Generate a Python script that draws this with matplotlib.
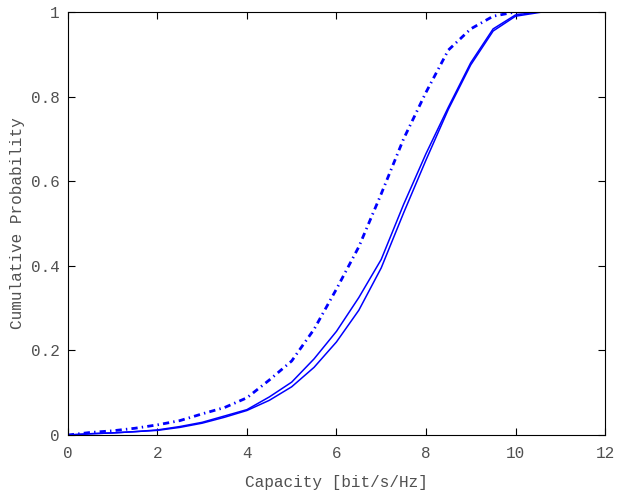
import matplotlib
matplotlib.use("Agg")
import matplotlib.pyplot as plt

# capacity CDF curves
cap_dashdot = [0, 0.5, 1, 1.5, 2, 2.5, 3, 3.5, 4, 4.5, 5, 5.5, 6, 6.5, 7, 7.5, 8, 8.5, 9, 9.5, 10, 10.3]
cdf_dashdot = [0.0, 0.006, 0.01, 0.016, 0.024, 0.034, 0.05, 0.065, 0.088, 0.13, 0.175, 0.25, 0.345, 0.445, 0.57, 0.70, 0.81, 0.91, 0.96, 0.99, 1.0, 1.0]

cap_solid_a = [0, 0.5, 1, 1.5, 2, 2.5, 3, 3.5, 4, 4.5, 5, 5.5, 6, 6.5, 7, 7.5, 8, 8.5, 9, 9.5, 10, 10.5]
cdf_solid_a = [0.0, 0.003, 0.005, 0.008, 0.012, 0.02, 0.03, 0.045, 0.06, 0.09, 0.125, 0.18, 0.245, 0.325, 0.415, 0.545, 0.665, 0.775, 0.88, 0.96, 0.993, 1.0]

cap_solid_b = [0, 0.5, 1, 1.5, 2, 2.5, 3, 3.5, 4, 4.5, 5, 5.5, 6, 6.5, 7, 7.5, 8, 8.5, 9, 9.5, 10, 10.6]
cdf_solid_b = [0.0, 0.003, 0.005, 0.008, 0.011, 0.018, 0.028, 0.042, 0.058, 0.082, 0.114, 0.16, 0.22, 0.295, 0.395, 0.525, 0.65, 0.77, 0.875, 0.955, 0.99, 1.0]

xticks = [0, 2, 4, 6, 8, 10, 12]
yticks = [0, 0.2, 0.4, 0.6, 0.8, 1]
ytick_labels = ["0", "0.2", "0.4", "0.6", "0.8", "1"]

plt.rcParams['font.family'] = ['Liberation Mono', 'DejaVu Sans Mono']
plt.rcParams['lines.scale_dashes'] = False
text_col = '#505050'

fig = plt.figure(figsize=(6.17, 4.93), dpi=100)
ax = fig.add_axes([0.110, 0.1176, 0.8706, 0.8581])

ax.plot(cap_dashdot, cdf_dashdot, color='#0000ff', linewidth=2, dashes=[4.5, 3, 1, 3])
ax.plot(cap_solid_a, cdf_solid_a, color='#0000ff', linestyle='-', linewidth=1.1)
ax.plot(cap_solid_b, cdf_solid_b, color='#0000ff', linestyle='-', linewidth=1.1)

ax.set_xlim(0, 12)
ax.set_ylim(0, 1)
ax.set_xticks(xticks)
ax.set_yticks(yticks)
ax.set_yticklabels(ytick_labels)
ax.tick_params(direction='in', top=True, right=True, length=5, width=0.8,
               labelsize=11.5, labelcolor=text_col)
ax.tick_params(axis='x', pad=8)
ax.tick_params(axis='y', pad=6)
ax.set_xlabel("Capacity [bit/s/Hz]", fontsize=11.5, color=text_col, labelpad=10)
ax.set_ylabel("Cumulative Probability", fontsize=11.5, color=text_col, labelpad=4)

fig.savefig("out.png", dpi=100)
